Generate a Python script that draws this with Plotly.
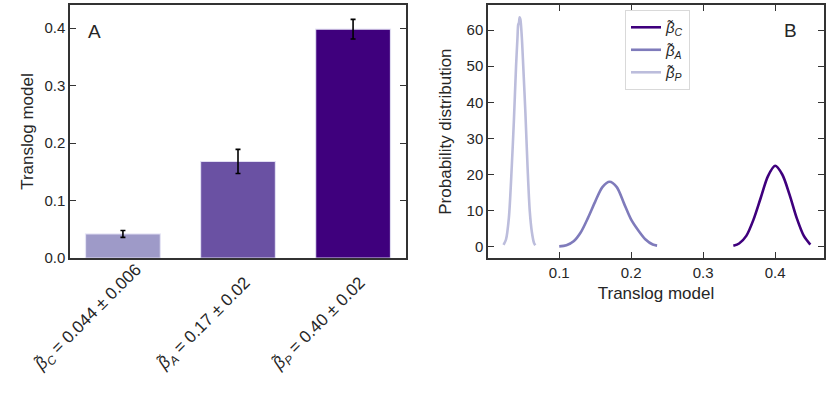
import plotly.graph_objects as go

# ---------------- data ----------------
bar_labels = ["<i>β̃</i><sub><i>C</i></sub> = 0.044 ± 0.006",
              "<i>β̃</i><sub><i>A</i></sub> = 0.17 ± 0.02",
              "<i>β̃</i><sub><i>P</i></sub> = 0.40 ± 0.02"]
bar_values = [0.042, 0.168, 0.398]
bar_errors = [0.006, 0.021, 0.017]
bar_colors = ["#9e9ac8", "#6a51a3", "#3f007d"]

# density curves
dark_x = [0.342, 0.350, 0.360, 0.370, 0.380, 0.390, 0.400, 0.410, 0.420, 0.430, 0.440, 0.449]
dark_y = [0.3, 0.9, 3.0, 7.5, 13.5, 19.5, 22.4, 20.0, 14.5, 8.0, 3.0, 0.6]

mid_x = [0.100, 0.110, 0.120, 0.130, 0.140, 0.150, 0.160, 0.170, 0.180, 0.190,
         0.200, 0.210, 0.220, 0.230, 0.236]
mid_y = [0.1, 0.4, 1.5, 4.0, 8.0, 12.5, 16.5, 18.0, 16.5, 12.0, 7.5, 4.5, 2.0, 0.6, 0.3]

light_x = [0.0226, 0.026, 0.030, 0.034, 0.037, 0.040, 0.042, 0.043, 0.044, 0.045,
           0.046, 0.048, 0.050, 0.053, 0.056, 0.059, 0.062, 0.065, 0.0667]
light_y = [0.5, 2.0, 8.0, 22.0, 35.0, 50.0, 58.0, 61.5, 62.0, 63.5,
           63.0, 58.0, 50.0, 37.0, 22.0, 10.0, 4.0, 1.0, 0.4]

legend_names = ["<i>β̃</i><sub><i>C</i></sub>",
                "<i>β̃</i><sub><i>A</i></sub>",
                "<i>β̃</i><sub><i>P</i></sub>"]
line_colors = ["#3f007d", "#7f7bbb", "#bcbddc"]

a_ticks = [0.0, 0.1, 0.2, 0.3, 0.4]
b_xticks = [0.1, 0.2, 0.3, 0.4]
b_yticks = [0, 10, 20, 30, 40, 50, 60]

FONT = "Liberation Sans, Arial, Helvetica, sans-serif"
TXT = "#262626"
AX = "#333333"
W, H = 831, 406  # H: effective vertical extent of the drawing area

fig = go.Figure()

fig.add_trace(go.Bar(
    x=[0, 1, 2], y=bar_values, width=0.65,
    marker=dict(color=bar_colors, line=dict(color="rgba(230,228,245,0.9)", width=1.2)),
    error_y=dict(type="data", array=bar_errors, color="black", thickness=1.6, width=2.5),
    xaxis="x", yaxis="y", showlegend=False))

for xs, ys, nm, col in [(dark_x, dark_y, legend_names[0], line_colors[0]),
                        (mid_x, mid_y, legend_names[1], line_colors[1]),
                        (light_x, light_y, legend_names[2], line_colors[2])]:
    fig.add_trace(go.Scatter(x=xs, y=ys, mode="lines", name=nm,
                             line=dict(color=col, width=2.6, shape="spline", smoothing=0.8),
                             xaxis="x2", yaxis="y2"))

common = dict(showgrid=False, zeroline=False, showline=True, linecolor=AX, linewidth=1.5,
              tickcolor=AX, tickwidth=1.2, ticklen=6,
              tickfont=dict(family=FONT, size=15, color=TXT))

fig.update_layout(
    autosize=True,
    margin=dict(l=0, r=0, t=0, b=0),
    paper_bgcolor="white", plot_bgcolor="white",
    font=dict(family=FONT, color=TXT),
    xaxis=dict(domain=[70/W, 406/W], range=[-0.46, 2.46], showticklabels=False,
               ticks="", mirror=True, anchor="y", **{k: v for k, v in common.items() if k not in ("ticklen",)}),
    yaxis=dict(domain=[1-257.5/H, 1-5/H], range=[0, 0.44], tickvals=a_ticks,
               tickformat=".1f", ticks="inside", mirror="ticks", anchor="x",
               title=dict(text="Translog model", font=dict(family=FONT, size=17, color=TXT), standoff=6),
               **common),
    xaxis2=dict(domain=[488/W, 824/W], range=[0.001, 0.468], tickvals=b_xticks,
                tickformat=".1f", ticks="inside", mirror="ticks", anchor="y2",
                title=dict(text="Translog model", font=dict(family=FONT, size=17, color=TXT), standoff=7),
                **common),
    yaxis2=dict(domain=[1-257.5/H, 1-5/H], range=[-3.16, 66.93], tickvals=b_yticks,
                ticks="inside", mirror="ticks", anchor="x2",
                title=dict(text="Probability distribution", font=dict(family=FONT, size=17, color=TXT), standoff=11),
                **common),
    legend=dict(x=625/W, y=1-10/H, xanchor="left", yanchor="top",
                bgcolor="white", bordercolor="#d9d9d9", borderwidth=1,
                font=dict(family=FONT, size=15, color=TXT), tracegroupgap=0),
)

# panel letters
fig.add_annotation(text="A", xref="paper", yref="paper", x=86/W, y=1-31/H,
                   xanchor="left", yanchor="middle", showarrow=False,
                   font=dict(family=FONT, size=19, color=TXT))
fig.add_annotation(text="B", xref="paper", yref="paper", x=799/W, y=1-30/H,
                   xanchor="right", yanchor="middle", showarrow=False,
                   font=dict(family=FONT, size=19, color=TXT))

# rotated category labels for panel A
for i, lab in enumerate(bar_labels):
    fig.add_annotation(text=lab, x=i, xref="x", y=1-378/H, yref="paper",
                       xanchor="center", yanchor="bottom", xshift=-34,
                       textangle=-45, showarrow=False,
                       font=dict(family=FONT, size=17, color=TXT))

fig.write_html("out.html", default_width="100%", default_height="100vh",
               config={"displayModeBar": False, "responsive": True},
               post_script="document.documentElement.style.margin='0';"
                           "document.body.style.margin='0';document.body.style.overflow='hidden';"
                           "window.dispatchEvent(new Event('resize'));")
